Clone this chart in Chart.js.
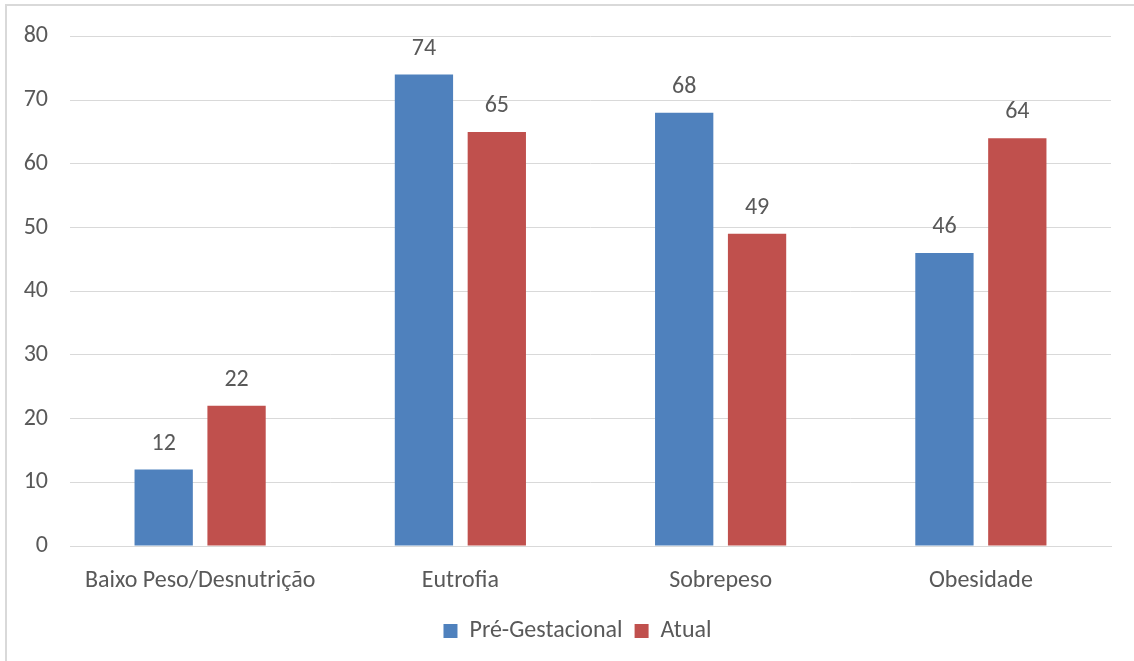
<!DOCTYPE html>
<html>
<head>
<meta charset="utf-8">
<script src="https://cdn.jsdelivr.net/npm/chart.js"></script>
<style>
  html, body { margin: 0; padding: 0; background: #fff; overflow: hidden; }
  #frame { position: absolute; left: 5px; top: 4px; width: 1200px; height: 720px; border: 2px solid #d9d9d9; }
  #wrap { position: absolute; left: 0; top: 0; width: 1134px; height: 661px; }
</style>
</head>
<body>
<div id="frame"></div>
<div id="wrap"><canvas id="myChart"></canvas></div>
<script>
const categories = ['Baixo Peso/Desnutrição', 'Eutrofia', 'Sobrepeso', 'Obesidade'];
const preGestacional = [12, 74, 68, 46];
const atual = [22, 65, 49, 64];
const yTicks = [0, 10, 20, 30, 40, 50, 60, 70, 80];

const fontFamily = "Carlito, Calibri, Lato, sans-serif";
const textColor = '#595959';

// values above each bar
const barLabels = {
  id: 'barLabels',
  afterDatasetsDraw(chart) {
    const ctx = chart.ctx;
    ctx.save();
    ctx.font = '24px ' + fontFamily;
    ctx.fillStyle = textColor;
    ctx.textAlign = 'center';
    ctx.textBaseline = 'middle';
    chart.data.datasets.forEach((ds, i) => {
      chart.getDatasetMeta(i).data.forEach((bar, j) => {
        ctx.fillText(ds.data[j], bar.x, bar.y - 26);
      });
    });
    ctx.restore();
  }
};

// excel puts the legend a bit right of centre
const legendShift = {
  id: 'legendShift',
  afterLayout(chart) {
    chart.legend.left += 22;
    chart.legend.right += 22;
  }
};

const ctx = document.getElementById('myChart');

new Chart(ctx, {
  type: 'bar',
  data: {
    labels: categories,
    datasets: [
      {
        label: 'Pré-Gestacional',
        data: preGestacional,
        backgroundColor: '#4F81BD',
        categoryPercentage: 0.56,
        barPercentage: 0.8
      },
      {
        label: 'Atual',
        data: atual,
        backgroundColor: '#C0504D',
        categoryPercentage: 0.56,
        barPercentage: 0.8
      }
    ]
  },
  options: {
    responsive: true,
    maintainAspectRatio: false,
    animation: false,
    layout: { padding: { top: 34, right: 23, bottom: 8, left: 0 } },
    plugins: {
      tooltip: { enabled: false },
      legend: {
        position: 'bottom',
        labels: {
          boxWidth: 14,
          boxHeight: 14,
          padding: 12,
          color: textColor,
          font: { family: fontFamily, size: 24 }
        }
      }
    },
    scales: {
      x: {
        grid: { display: false, drawTicks: false },
        border: { color: '#d9d9d9', width: 1 },
        ticks: { color: textColor, padding: 21, font: { family: fontFamily, size: 24 } },
        afterFit(scale) { scale.height = 61; }
      },
      y: {
        min: 0,
        max: 80,
        afterBuildTicks(scale) { scale.ticks = yTicks.map(v => ({ value: v })); },
        grid: { color: '#d9d9d9', drawTicks: false },
        border: { display: false },
        ticks: { color: textColor, padding: 22, font: { family: fontFamily, size: 24 } },
        afterFit(scale) { scale.width = 70; }
      }
    }
  },
  plugins: [barLabels, legendShift]
});
</script>
</body>
</html>
